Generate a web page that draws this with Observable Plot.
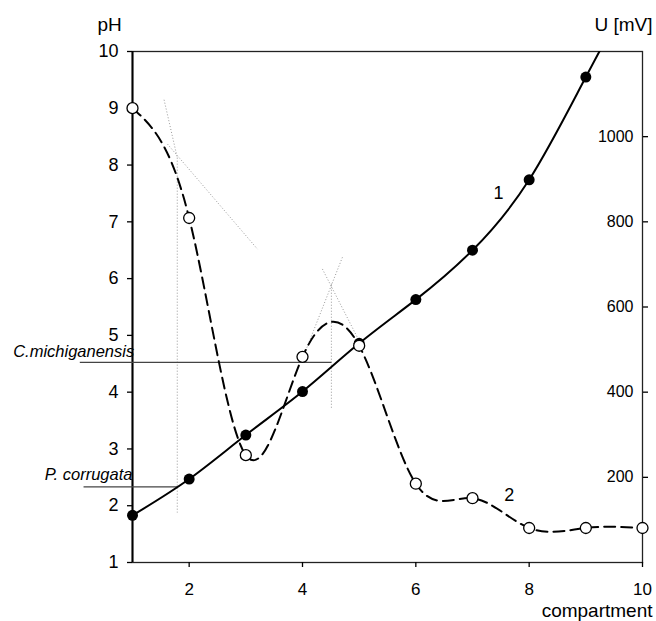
<!DOCTYPE html>
<html><head><meta charset="utf-8">
<script src="https://cdn.jsdelivr.net/npm/d3@7"></script>
<script src="https://cdn.jsdelivr.net/npm/@observablehq/plot@0.6"></script>
<style>body{margin:0;background:#fff} svg{display:block}</style>
</head><body><div id="chart"></div><script>
// Compartments 1..10
const compartments = [1, 2, 3, 4, 5, 6, 7, 8, 9, 10];
// Curve 1: pH (last value lies above the frame and is clipped)
const pHValues = [1.83, 2.47, 3.245, 4.01, 4.86, 5.63, 6.5, 7.74, 9.55, 11.4];
// Curve 2: U [mV]
const uValues = [1067, 809, 252, 483, 509, 185, 151, 81, 81, 81];
// Axes
const pHTicks = [1, 2, 3, 4, 5, 6, 7, 8, 9, 10];
const xTicks = [2, 4, 6, 8, 10];
const uTicks = [200, 400, 600, 800, 1000];
const pHDomain = [1, 10];
const uDomain = [0, 1200];
// Guide construction lines (dotted), [x1, y1(pH), x2, y2(pH)]
const guideLines = [
  [1.557, 9.15, 1.79, 8.13],
  [1.617, 8.37, 3.205, 6.52],
  [1.79, 8.13, 1.79, 1.88],
  [4.704, 6.375, 4.056, 4.73],
  [4.351, 6.17, 4.968, 4.965],
  [4.51, 5.91, 4.51, 3.71]
];
// Isoelectric reference lines (solid), [x1, x2, pH]
const refLines = [
  [0.07, 4.51, 4.524],
  [0.136, 1.79, 2.333]
];
const refLabels = ["C.michiganensis", "P. corrugata"];

const uToPh = u => pHDomain[0] + (u - uDomain[0]) * (pHDomain[1] - pHDomain[0]) / (uDomain[1] - uDomain[0]);

const curve1 = compartments.map((c, i) => ({c, v: pHValues[i]}));
const curve2 = compartments.map((c, i) => ({c, v: uToPh(uValues[i])}));

const font = "'Liberation Sans', Arial, sans-serif";

const chart = Plot.plot({
  width: 656,
  height: 621,
  marginLeft: 132,
  marginRight: 14,
  marginTop: 51,
  marginBottom: 59,
  x: {domain: [1, 10]},
  y: {domain: pHDomain},
  style: {fontFamily: font, background: "white", color: "black"},
  marks: [
    Plot.frame({stroke: "#222", strokeWidth: 1.3}),
    Plot.ruleX([1], {stroke: "black", strokeWidth: 2}),
    Plot.axisY(pHTicks, {tickSize: 5, tickPadding: 9, fontSize: 18, label: null, strokeWidth: 1.3, tickFormat: d => String(d)}),
    Plot.axisX(xTicks, {tickSize: 5, tickPadding: 15, fontSize: 17, label: null, strokeWidth: 1.3, tickFormat: d => String(d)}),
    Plot.axisY(uTicks.map(uToPh), {anchor: "right", tickSize: 5, tickFormat: () => "", label: null, strokeWidth: 1.3}),
    Plot.text(uTicks, {y: uToPh, text: d => String(d), frameAnchor: "right", textAnchor: "end", dx: -9, fontSize: 16}),
    Plot.link(guideLines, {x1: d => d[0], y1: d => d[1], x2: d => d[2], y2: d => d[3], stroke: "#999", strokeWidth: 1, strokeDasharray: "1,2"}),
    Plot.link(refLines, {x1: d => d[0], x2: d => d[1], y1: d => d[2], y2: d => d[2], stroke: "#444", strokeWidth: 1.2}),
    Plot.text([refLabels[0]], {x: 1.03, y: 4.714, text: d => d, textAnchor: "end", fontSize: 16.5, fontStyle: "italic"}),
    Plot.text([refLabels[1]], {x: 1.0, y: 2.54, text: d => d, textAnchor: "end", fontSize: 16.5, fontStyle: "italic"}),
    Plot.line(curve1, {x: "c", y: "v", curve: "natural", stroke: "black", strokeWidth: 2, clip: true}),
    Plot.line(curve2, {x: "c", y: "v", curve: "natural", stroke: "black", strokeWidth: 2, strokeDasharray: "11,6"}),
    Plot.dot(curve1, {x: "c", y: "v", r: 5.5, fill: "black", filter: d => d.v <= pHDomain[1]}),
    Plot.dot(curve2, {x: "c", y: "v", r: 5.5, fill: "white", stroke: "black", strokeWidth: 1.3}),
    Plot.text(["1"], {x: 7.46, y: 7.5, text: d => d, fontSize: 18}),
    Plot.text(["2"], {x: 7.65, y: 2.19, text: d => d, fontSize: 18}),
    Plot.text(["pH"], {frameAnchor: "top-left", text: d => d, textAnchor: "start", lineAnchor: "middle", dx: -35, dy: -27, fontSize: 19}),
    Plot.text(["U [mV]"], {frameAnchor: "top-right", text: d => d, textAnchor: "end", lineAnchor: "middle", dx: 10, dy: -27, fontSize: 19}),
    Plot.text(["compartment"], {frameAnchor: "bottom-right", text: d => d, textAnchor: "end", lineAnchor: "middle", dx: 10, dy: 48, fontSize: 19})
  ]
});
document.getElementById("chart").append(chart);
</script></body></html>
